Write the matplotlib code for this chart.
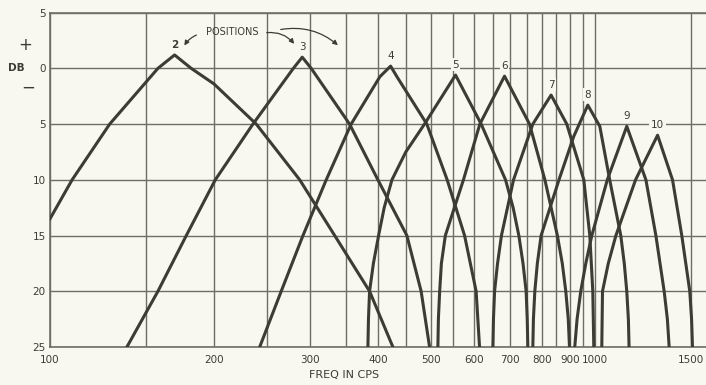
import numpy as np
import matplotlib
matplotlib.use("Agg")
import matplotlib.pyplot as plt
from matplotlib.ticker import FixedLocator, NullFormatter

# frequency (cps) / attenuation (db, positive = down)
pos2_freq = [100, 109.8, 128.7, 157.8, 169.3, 181.6, 200, 239.1, 287.3, 333.1, 386.0, 426.0]
pos2_db = [13.5, 10, 5, 0, -1.2, 0, 1.4, 5, 10, 15, 20, 25]

pos3_freq = [138.4, 157.8, 177.9, 201.1, 235.8, 279.7, 290.4, 301.6, 354.7, 399.8, 451.9, 480.0, 497.4]
pos3_db = [25, 20, 15, 10, 5, 0, -1.0, 0, 5, 10, 15, 20, 25]

pos4_freq = [242.6, 265.7, 291.3, 321.4, 357.1, 403.2, 421.9, 433.3, 491.7, 535.8, 576.7, 605.6, 614.4]
pos4_db = [25, 20, 15, 10, 5, 0.75, -0.2, 0.75, 5, 10, 15, 20, 25]

pos5_freq = [383.3, 384.2, 386.0, 392.3, 401.0, 410.6, 424.3, 449.9, 486.9, 555.1,
             618.6, 685.7, 708.1, 725.4, 738.3, 748.1, 751.6, 753.5]
pos5_db = [25, 22.5, 20, 17.5, 15, 12.5, 10, 7.5, 5, 0.6,
           5, 10, 12.5, 15, 17.5, 20, 22.5, 25]

pos6_freq = [515.2, 516.3, 519.1, 522.9, 531.7, 574.0, 615.2, 682.8,
             758.9, 809.8, 853.7, 871.6, 884.6, 894.0, 898.5]
pos6_db = [25, 22.5, 20, 17.5, 15, 10, 5, 0.7,
           5, 10, 15, 17.5, 20, 22.5, 25]

pos7_freq = [650.0, 651.6, 654.7, 663.0, 674.0, 709.3, 769.6, 831.3,
             888.3, 954.6, 979.1, 991.6, 995.8]
pos7_db = [25, 22.5, 20, 17.5, 15, 10, 5, 2.4,
           5, 10, 15, 20, 25]

pos8_freq = [769.6, 771.5, 776.1, 784.4, 797.0, 859.5, 915.0, 970.9,
             1021.4, 1065.0, 1116.1, 1132.7, 1144.7, 1152.5, 1155.9]
pos8_db = [25, 22.5, 20, 17.5, 15, 10, 6.1, 3.3,
           5.2, 10, 15, 17.5, 20, 22.5, 25]

pos9_freq = [918.8, 927.8, 942.4, 962.7, 987.4, 1054.3, 1144.7,
             1241.1, 1294.6, 1340.7, 1359.0, 1369.3]
pos9_db = [25, 22.5, 20, 17.5, 15, 10, 5.2,
           10, 15, 20, 22.5, 25]

pos10_freq = [1030.0, 1033.1, 1058.7, 1093.3, 1188.1, 1303.9,
              1388.9, 1444.4, 1494.0, 1505.4, 1511.2]
pos10_db = [25, 20, 17.5, 15, 10, 6.0,
            10, 15, 20, 22.5, 25]

position_names = ["2", "3", "4", "5", "6", "7", "8", "9", "10"]
curves_freq = [pos2_freq, pos3_freq, pos4_freq, pos5_freq, pos6_freq,
               pos7_freq, pos8_freq, pos9_freq, pos10_freq]
curves_db = [pos2_db, pos3_db, pos4_db, pos5_db, pos6_db,
             pos7_db, pos8_db, pos9_db, pos10_db]

x_ticks = [100, 200, 300, 400, 500, 600, 700, 800, 900, 1000, 1500]
x_ticklabels = ["100", "200", "300", "400", "500", "600", "700", "800", "900", "1000", "1500"]
x_grid_minor = [150, 250, 350, 450, 550, 650, 750, 850, 950]
y_ticks = [-5, 0, 5, 10, 15, 20, 25]
y_ticklabels = ["5", "0", "5", "10", "15", "20", "25"]

bg = "#f8f8f0"
ink = "#3c3c32"
grid_c = "#6e6e66"

fig = plt.figure(figsize=(7.06, 3.85), dpi=100, facecolor=bg)
ax = fig.add_axes([50 / 706, 1 - 347 / 385, 656 / 706, (347 - 12.6) / 385])
ax.set_facecolor(bg)

for fr, db in zip(curves_freq, curves_db):
    ax.plot(fr, db, color=ink, lw=2.2, solid_joinstyle="round", zorder=3)

# position numbers above each peak
for name, fr, db in zip(position_names, curves_freq, curves_db):
    i = int(np.argmin(db))
    ax.annotate(name, (fr[i], db[i]), xytext=(0, 7.5), textcoords="offset points",
                ha="center", va="center", fontsize=7.5, color=ink,
                fontweight="bold" if name == "2" else "normal",
                bbox=dict(boxstyle="square,pad=0.15", fc=bg, ec="none"), zorder=4)

ax.set_xscale("log")
ax.set_xlim(100, 1600)
ax.set_ylim(25, -5)

ax.xaxis.set_major_locator(FixedLocator(x_ticks))
ax.set_xticklabels(x_ticklabels)
ax.xaxis.set_minor_locator(FixedLocator(x_grid_minor))
ax.xaxis.set_minor_formatter(NullFormatter())
ax.set_yticks(y_ticks)
ax.set_yticklabels(y_ticklabels)

ax.grid(True, which="both", axis="x", color=grid_c, lw=1.0, zorder=1)
ax.grid(True, which="major", axis="y", color=grid_c, lw=1.0, zorder=1)
ax.tick_params(which="both", length=0, colors=ink, labelsize=7.5)
ax.tick_params(axis="x", pad=6)
ax.tick_params(axis="y", pad=3)
for side in ["left", "bottom", "top"]:
    ax.spines[side].set_color(grid_c)
    ax.spines[side].set_linewidth(1.2)
ax.spines["right"].set_visible(False)

fig.text(344 / 706, 1 - 375 / 385, "FREQ IN CPS", ha="center", va="center",
         fontsize=8, color=ink)
fig.text(25 / 706, 1 - 45 / 385, "+", ha="center", va="center", fontsize=12, color=ink)
fig.text(16 / 706, 1 - 68 / 385, "DB", ha="center", va="center", fontsize=7.5,
         color=ink, fontweight="bold")
fig.text(28 / 706, 1 - 88 / 385, "\u2212", ha="center", va="center", fontsize=12, color=ink)

# POSITIONS with its arrows
fig.text(232 / 706, 1 - 32 / 385, "POSITIONS", ha="center", va="center",
         fontsize=7, color=ink)
arr = dict(arrowstyle="-|>", color=ink, lw=0.9, mutation_scale=7)
ax.annotate("", xy=(183 / 706, 1 - 48 / 385), xycoords="figure fraction",
            xytext=(199 / 706, 1 - 34 / 385), textcoords="figure fraction",
            arrowprops=dict(arr, connectionstyle="arc3,rad=0.2"))
ax.annotate("", xy=(296 / 706, 1 - 46 / 385), xycoords="figure fraction",
            xytext=(264 / 706, 1 - 33 / 385), textcoords="figure fraction",
            arrowprops=dict(arr, connectionstyle="arc3,rad=-0.3"))
ax.annotate("", xy=(340 / 706, 1 - 47 / 385), xycoords="figure fraction",
            xytext=(278 / 706, 1 - 30 / 385), textcoords="figure fraction",
            arrowprops=dict(arr, connectionstyle="arc3,rad=-0.25"))

fig.savefig("out.png", dpi=100, facecolor=bg)
